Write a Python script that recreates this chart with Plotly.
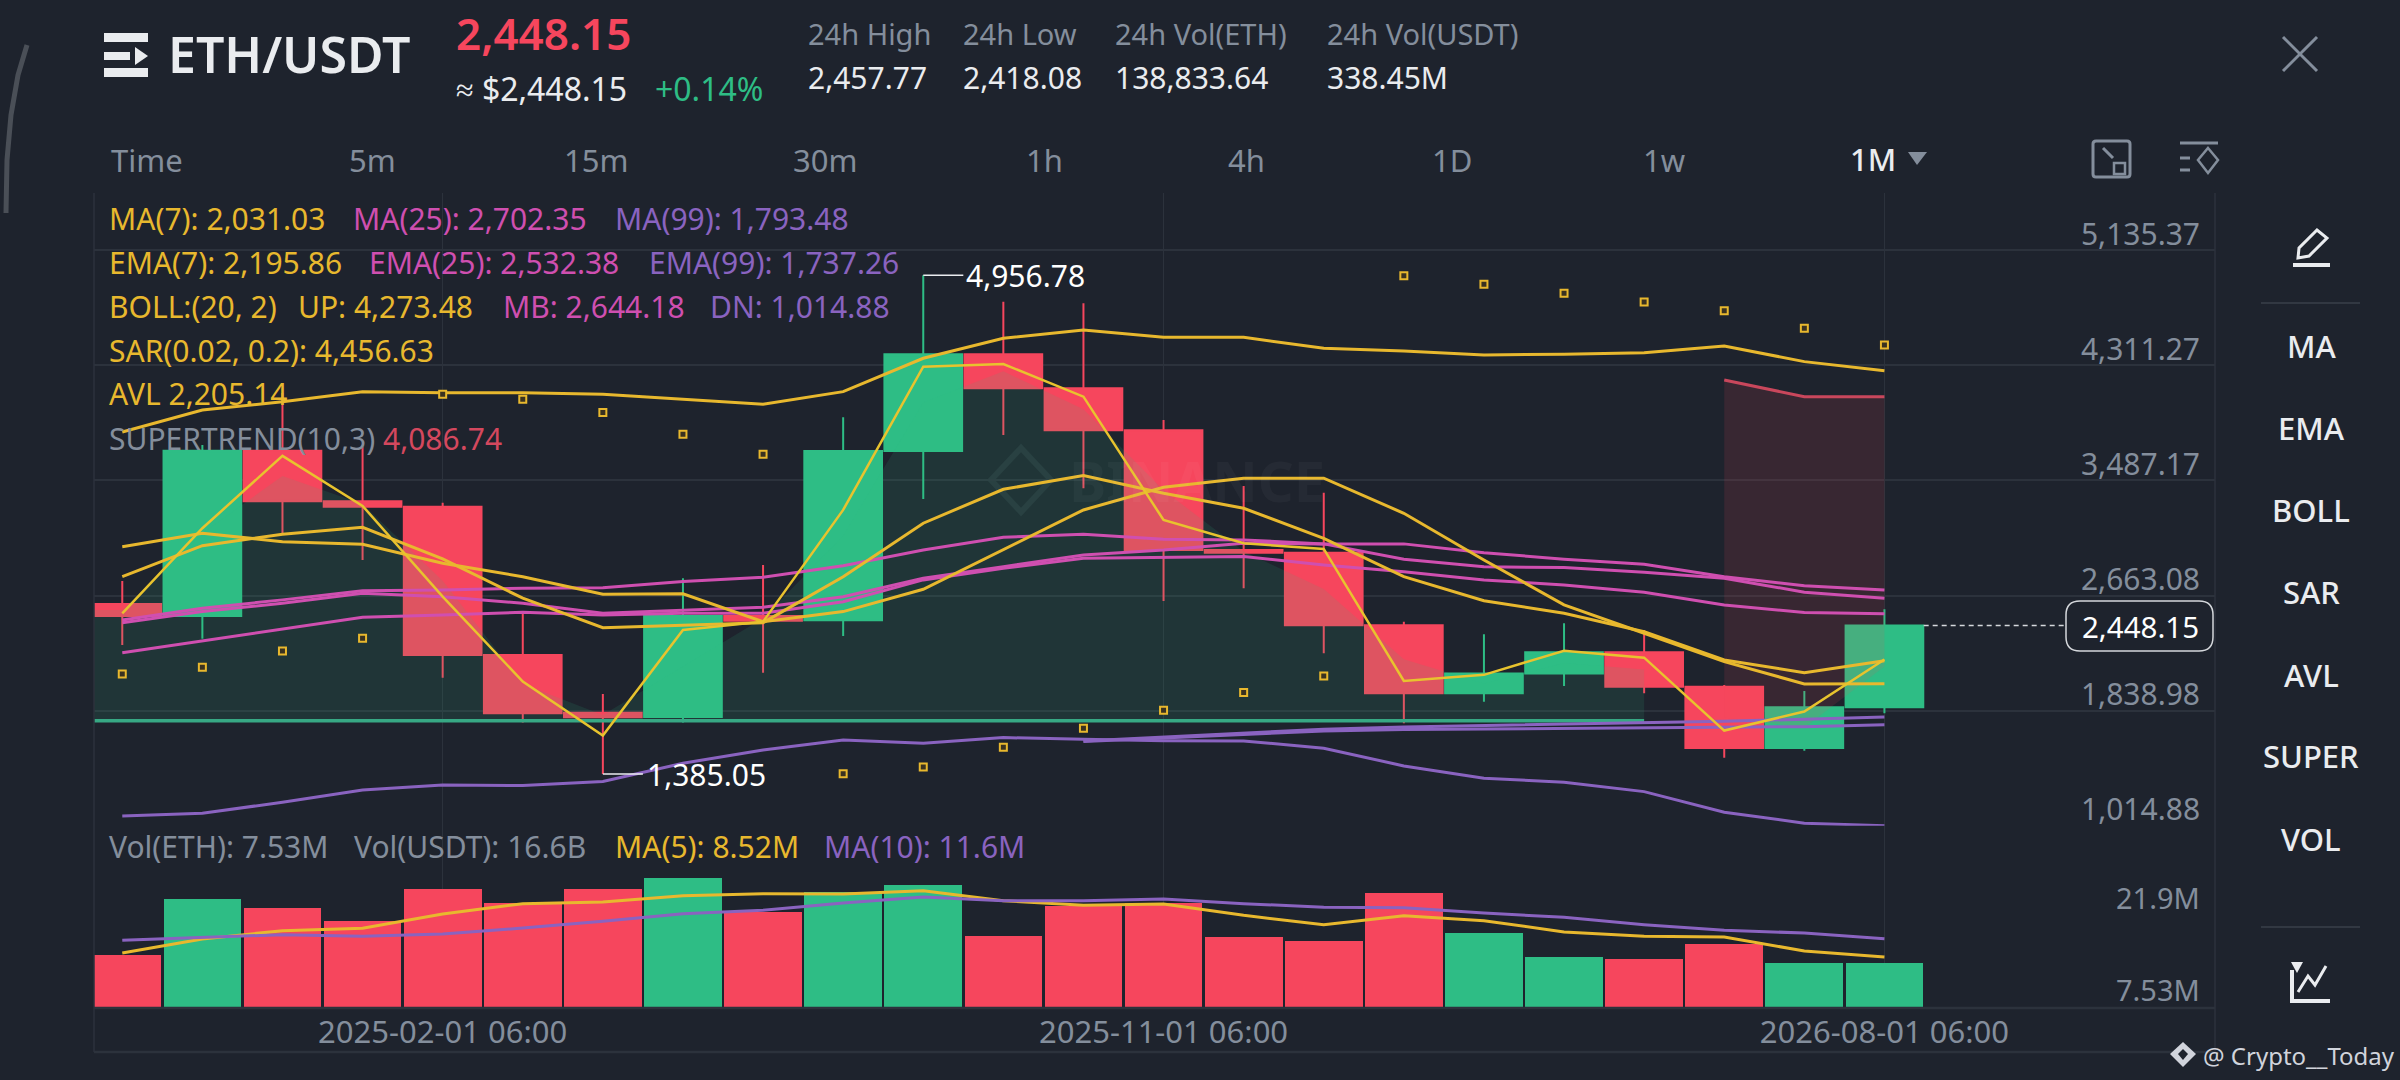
import plotly.graph_objs as go

W = 2400
H = 1080
BG = '#1e232d'
GRID = '#2c323c'
GRAY = '#848e9c'
WHITE = '#eaecef'
GREEN = '#2ebd85'
RED = '#f6465d'
YELLOW = '#e8b82e'
MAGENTA = '#cf4fb0'
PURPLE = '#8a63c0'
FONT = 'Noto Sans'

# monthly candles, 2024-10 .. 2026-08
months = ['2024-10', '2024-11', '2024-12', '2025-01', '2025-02', '2025-03', '2025-04', '2025-05',
          '2025-06', '2025-07', '2025-08', '2025-09', '2025-10', '2025-11', '2025-12', '2026-01',
          '2026-02', '2026-03', '2026-04', '2026-05', '2026-06', '2026-07', '2026-08']
idx = list(range(len(months)))

opens = [2603, 2517, 3700.5, 3338, 3299.5, 2238, 1824.5, 1794, 2517, 2486, 3698, 4391, 4147,
         3846.5, 2989, 2970, 2450, 1963.4, 2104, 2257, 2009, 1572, 1863]
highs = [2767, 3741, 4114, 3727, 3328, 2538, 1958, 2787, 2882, 3940, 4956.78, 4767, 4756,
         3920, 3448, 3400, 2476, 2386, 2465, 2417, 2023, 1980, 2565]
lows = [2309, 2354, 3111, 2918, 2075, 1753, 1385.05, 1753, 2111, 2374, 3355, 3813, 3431,
        2624, 2715, 2250, 1748, 1903, 2016, 1963, 1502, 1552, 1820]
closes = [2517, 3700.5, 3338, 3299.5, 2238, 1820, 1791.6, 2517, 2483, 3698, 4391, 4147, 3846.5,
          2989, 2970, 2450, 1963.4, 2104, 2257, 2009, 1572, 1863, 2448.15]

ma7 = [3013, 3109, 3049, 3030, 2894, 2798, 2672, 2675, 2476, 2548, 2708, 2990, 3276, 3438, 3503,
       3503, 3252, 2918, 2596, 2393, 2190, 2030, 2031.03]
ema7 = [2798, 3020, 3102, 3152, 2925, 2644, 2433, 2453, 2469, 2798, 3181, 3424, 3522, 3396, 3288,
        3073, 2798, 2626, 2536, 2404, 2202, 2111, 2195.86]
avl = [2536, 3145, 3663, 3305, 2655, 2047, 1660, 2417, 2476, 3276, 4302, 4321, 4087, 3204, 3037,
       2997, 2051, 2095, 2268, 2218, 1696, 1832, 2205.14]
ma25 = [2488, 2572, 2632, 2698, 2703, 2715, 2719, 2763, 2794, 2877, 2989, 3080, 3102, 3066, 3061,
        3033, 3033, 2970, 2923, 2887, 2798, 2734, 2702.35]
boll_mb = [2469, 2548, 2608, 2679, 2655, 2608, 2536, 2555, 2579, 2655, 2787, 2870, 2954, 2989, 3037,
           3033, 2923, 2870, 2863, 2830, 2787, 2687, 2644.18]
ema25 = [2254, 2340, 2422, 2508, 2524, 2543, 2524, 2536, 2536, 2619, 2775, 2858, 2930, 2937, 2942,
         2882, 2834, 2775, 2739, 2687, 2596, 2541, 2532.38]
boll_up = [3834, 3992, 4051, 4123, 4116, 4116, 4104, 4069, 4033, 4123, 4362, 4505, 4565, 4512, 4512,
           4434, 4414, 4386, 4391, 4402, 4450, 4338, 4273.48]
boll_dn = [1085, 1104, 1183, 1271, 1307, 1302, 1331, 1462, 1557, 1629, 1605, 1646, 1634, 1624, 1622,
           1570, 1443, 1355, 1326, 1259, 1111, 1033, 1014.88]
ma99 = [1622, 1651, 1681, 1706, 1722, 1731, 1740, 1753, 1763, 1777, 1793.48]
ema99 = [1618, 1643, 1672, 1693, 1703, 1708, 1713, 1717, 1720, 1724, 1737.26]
sar = [2102, 2150, 2266, 2357, 4104, 4069, 3973, 3818, 3675, 1386, 1436, 1577, 1713, 1842, 1968,
       2087, 4953, 4892, 4827, 4765, 4703, 4577, 4456.63]

# supertrend, the green leg starts before the first visible month
# the shaded bands close on the middle of each candle body
mids = [(o + c) / 2 for o, c in zip(opens, closes)]
st_up_x = [-1] + idx[:20]
st_up = [1767] * 21
st_up_mid = [2560] + mids[:20]
st_dn_x = idx[20:]
st_dn = [4207, 4086.74, 4086.74]
st_dn_mid = mids[20:]

# volume in millions
vol = [8.92, 18.3, 16.7, 14.67, 19.9, 17.57, 19.9, 21.75, 16.17, 19.52, 20.58, 12.05, 17.18,
       17.68, 11.88, 11.32, 19.3, 12.66, 8.53, 8.2, 10.76, 7.58, 7.53]
vol_ma5 = [9.2, 11.54, 12.94, 13.33, 15.73, 17.46, 17.73, 18.79, 19.13, 19.07, 19.63, 17.96, 17.18,
           17.4, 15.5, 13.94, 15.45, 14.61, 12.72, 11.99, 11.88, 9.54, 8.52]
vol_ma10 = [11.32, 11.82, 12.27, 11.99, 12.38, 13.38, 14.5, 15.78, 16.34, 17.57, 18.57, 17.96, 17.96,
            18.24, 17.46, 16.84, 16.79, 15.89, 15.17, 13.94, 12.99, 12.55, 11.6]
vol_colors = [GREEN if c >= o else RED for o, c in zip(opens, closes)]

price_ticks = [5135.37, 4311.27, 3487.17, 2663.08, 1838.98, 1014.88]
date_ticks = [4, 13, 22]
date_labels = ['2025-02-01 06:00', '2025-11-01 06:00', '2026-08-01 06:00']


def fx(x):
    return x / W


def fy(y):
    return 1 - y / H


def line_trace(x, y, color, width=3):
    return go.Scatter(x=x, y=y, mode='lines', line=dict(color=color, width=width), hoverinfo='skip')


data = [
    go.Candlestick(x=idx, open=opens, high=highs, low=lows, close=closes, whiskerwidth=0,
                   increasing=dict(line=dict(color=GREEN, width=2), fillcolor=GREEN),
                   decreasing=dict(line=dict(color=RED, width=2), fillcolor=RED)),
    # supertrend bands sit over the candles
    go.Scatter(x=st_up_x, y=st_up, mode='lines', line=dict(color='#37a884', width=3.5), hoverinfo='skip'),
    go.Scatter(x=st_up_x, y=st_up_mid, mode='lines', line=dict(width=0), fill='tonexty',
               fillcolor='rgba(46,189,133,0.12)', hoverinfo='skip'),
    go.Scatter(x=st_dn_x, y=st_dn, mode='lines', line=dict(color='#c9475c', width=3), hoverinfo='skip'),
    go.Scatter(x=st_dn_x, y=st_dn_mid, mode='lines', line=dict(width=0), fill='tonexty',
               fillcolor='rgba(246,70,93,0.12)', hoverinfo='skip'),
    line_trace(idx, boll_dn, PURPLE),
    line_trace(idx[12:], ma99, PURPLE),
    line_trace(idx[12:], ema99, PURPLE),
    line_trace(idx, ema25, MAGENTA),
    line_trace(idx, boll_mb, MAGENTA),
    line_trace(idx, ma25, MAGENTA),
    line_trace(idx, boll_up, YELLOW),
    line_trace(idx, ma7, YELLOW),
    line_trace(idx, ema7, YELLOW),
    line_trace(idx, avl, '#e8c32e', 2.5),
    go.Scatter(x=idx, y=sar, mode='markers', hoverinfo='skip',
               marker=dict(symbol='square', size=7, color='#3a3220', line=dict(color=YELLOW, width=2))),
    go.Bar(x=idx, y=vol, marker=dict(color=vol_colors, line=dict(width=0)), yaxis='y2', width=0.97, hoverinfo='skip'),
    go.Scatter(x=idx, y=vol_ma5, mode='lines', line=dict(color=YELLOW, width=3), yaxis='y2', hoverinfo='skip'),
    go.Scatter(x=idx, y=vol_ma10, mode='lines', line=dict(color=PURPLE, width=3), yaxis='y2', hoverinfo='skip'),
]

notes = []


def note(x, y, text, color=GRAY, size=30, anchor='left', weight=None):
    notes.append(dict(xref='paper', yref='paper', x=fx(x), y=fy(y), text=text, showarrow=False,
                      xanchor=anchor, yanchor='middle', borderpad=0,
                      font=dict(family=FONT, color=color, size=size, weight=weight)))


# header
note(167, 54, 'ETH/USDT', WHITE, 50, weight=600)
note(455, 33, '2,448.15', RED, 44, weight=600)
note(455, 89, '≈ $2,448.15', WHITE, 32)
note(654, 89, '+0.14%', GREEN, 32)
for x, head, val in [(807, '24h High', '2,457.77'), (962, '24h Low', '2,418.08'),
                     (1114, '24h Vol(ETH)', '138,833.64'), (1326, '24h Vol(USDT)', '338.45M')]:
    note(x, 34, head, GRAY, 29)
    note(x, 78, val, WHITE, 30)
for x, tab in [(109.5, 'Time'), (348, '5m'), (563, '15m'), (792, '30m'), (1025, '1h'),
               (1227, '4h'), (1431, '1D'), (1642, '1w')]:
    note(x, 159.5, tab, GRAY, 31)
note(1849, 159, '1M', WHITE, 31, weight=500)

# indicator legends
note(107.5, 219, 'MA(7): 2,031.03', YELLOW)
note(352, 219, 'MA(25): 2,702.35', MAGENTA)
note(614, 219, 'MA(99): 1,793.48', PURPLE)
note(107.5, 263, 'EMA(7): 2,195.86', YELLOW)
note(368, 263, 'EMA(25): 2,532.38', MAGENTA)
note(648, 263, 'EMA(99): 1,737.26', PURPLE)
note(107.5, 307, 'BOLL:(20, 2)', YELLOW)
note(297, 307, 'UP: 4,273.48', YELLOW)
note(502, 307, 'MB: 2,644.18', MAGENTA)
note(709, 307, 'DN: 1,014.88', PURPLE)
note(107.5, 351, 'SAR(0.02, 0.2): 4,456.63', YELLOW)
note(107.5, 393, 'AVL 2,205.14', YELLOW)
note(107.5, 439, 'SUPERTREND(10,3)', GRAY)
note(382, 439, '4,086.74', '#d4485e')
note(107.5, 846, 'Vol(ETH): 7.53M', GRAY)
note(353, 846, 'Vol(USDT): 16.6B', GRAY)
note(614, 846, 'MA(5): 8.52M', YELLOW)
note(823, 846, 'MA(10): 11.6M', PURPLE)

# axis label that plotly drops at the foot of the price pane, volume labels, last price
note(2201, 808, f'{price_ticks[-1]:,.2f}', GRAY, 30, 'right')
note(2201, 897, '21.9M', GRAY, 29, 'right')
note(2201, 989, '7.53M', GRAY, 29, 'right')
note(2200, 626, f'{closes[-1]:,.2f}', '#ffffff', 29.5, 'right')

# right hand buttons
for y, label in [(346, 'MA'), (428, 'EMA'), (510, 'BOLL'), (592, 'SAR'), (675, 'AVL'), (756, 'SUPER'), (839, 'VOL')]:
    note(2311, y, label, WHITE, 31, 'center', 500)

note(2202, 1055, '@ Crypto__Today', '#d1d4dc', 24)
note(1068, 480, 'BINANCE', 'rgba(255,255,255,0.035)', 56, weight=700)

# high and low callouts
high_i = highs.index(max(highs))
low_i = lows.index(min(lows))
notes.append(dict(x=high_i + 0.52, y=highs[high_i], xref='x', yref='y', text=f'{highs[high_i]:,.2f}', showarrow=False,
                  xanchor='left', yanchor='middle', borderpad=0, font=dict(family=FONT, color='#ffffff', size=30)))
notes.append(dict(x=low_i + 0.54, y=lows[low_i], xref='x', yref='y', text=f'{lows[low_i]:,.2f}', showarrow=False,
                  xanchor='left', yanchor='middle', borderpad=0, font=dict(family=FONT, color='#ffffff', size=30)))


def rect(x0, y0, x1, y1, color=WHITE):
    return dict(type='rect', xref='paper', yref='paper', x0=fx(x0), x1=fx(x1), y0=fy(y0), y1=fy(y1),
                fillcolor=color, line=dict(width=0))


def seg(x0, y0, x1, y1, color=GRID, width=1.5):
    return dict(type='line', xref='paper', yref='paper', x0=fx(x0), x1=fx(x1), y0=fy(y0), y1=fy(y1),
                line=dict(color=color, width=width))


def poly(pts, color=GRAY, width=3, fill=None, closed=False):
    d = 'M ' + ' L '.join(f'{fx(x):.5f} {fy(y):.5f}' for x, y in pts) + (' Z' if closed else '')
    return dict(type='path', xref='paper', yref='paper', path=d, fillcolor=fill,
                line=dict(color=color, width=width))


def rounded(x0, y0, x1, y1, r, color, width=1.5, fill=None):
    a, b, c, d = fx(x0), fx(x1), fy(y0), fy(y1)
    rx, ry = r / W, r / H
    p = (f'M {a + rx} {c} L {b - rx} {c} Q {b} {c} {b} {c - ry} L {b} {d + ry} Q {b} {d} {b - rx} {d} '
         f'L {a + rx} {d} Q {a} {d} {a} {d + ry} L {a} {c - ry} Q {a} {c} {a + rx} {c} Z')
    return dict(type='path', xref='paper', yref='paper', path=p, fillcolor=fill, line=dict(color=color, width=width))


shapes = [
    # frame of the chart
    seg(94, 193, 94, 1052), seg(2215, 193, 2215, 1052), seg(94, 1008, 2215, 1008, width=2.5),
    seg(94, 1052, 2215, 1052, width=2.5),
    # last price
    dict(type='line', xref='x', yref='y', x0=22.49, x1=24.24, y0=closes[-1], y1=closes[-1],
         line=dict(color='#d5d8dc', width=1.5, dash='5px,4px')),
    rounded(2066, 601, 2213, 651, 14, '#d5d8dc', fill=BG),
    # callout connectors
    dict(type='line', xref='x', yref='y', x0=high_i, x1=high_i + 0.5, y0=highs[high_i], y1=highs[high_i],
         line=dict(color='#eaecef', width=1.5)),
    dict(type='line', xref='x', yref='y', x0=low_i, x1=low_i + 0.5, y0=lows[low_i], y1=lows[low_i],
         line=dict(color='#eaecef', width=1.5)),
    # scroll handle on the far left
    poly([(27, 45), (18, 75), (11, 115), (7, 160), (6, 213)], '#4a4f57', 5),
    # menu icon
    rect(104, 33, 148, 42), rect(104, 52, 130, 60), rect(104, 68, 148, 77),
    poly([(135, 47), (148, 56), (135, 65)], WHITE, 0, WHITE, True),
    # timeframe caret and panel icons
    poly([(1908, 152), (1927, 152), (1917, 165)], GRAY, 0, GRAY, True),
    rounded(2093, 141, 2130, 177, 3, GRAY, 3),
    poly([(2103, 148), (2113, 158)], GRAY, 3), rect(2113, 161, 2127, 175, BG),
    dict(type='rect', xref='paper', yref='paper', x0=fx(2114), x1=fx(2125), y0=fy(163), y1=fy(174),
         line=dict(color=GRAY, width=2.5)),
    seg(2180, 143, 2218, 143, GRAY, 3), seg(2180, 158, 2190, 158, GRAY, 3), seg(2180, 170, 2190, 170, GRAY, 3),
    poly([(2208, 148), (2218, 160), (2208, 173), (2198, 160)], GRAY, 2.5, None, True),
    # close cross
    seg(2283, 37, 2317, 71, GRAY, 3), seg(2317, 37, 2283, 71, GRAY, 3),
    # pencil and chart buttons
    poly([(2298, 258), (2299, 248), (2317, 230), (2327, 238), (2309, 256)], WHITE, 3, None, True),
    seg(2293, 265, 2330, 265, WHITE, 4),
    seg(2261, 303, 2360, 303, '#3a404a', 1.5), seg(2261, 927, 2360, 927, '#3a404a', 1.5),
    poly([(2292, 970), (2292, 1001), (2330, 1001)], WHITE, 4),
    poly([(2298, 992), (2308, 976), (2315, 985), (2326, 966)], WHITE, 3),
    poly([(2291, 962), (2303, 962), (2297, 973)], WHITE, 0, WHITE, True),
    # credit logo and faint watermark
    poly([(2183, 1042), (2196, 1054), (2183, 1067), (2170, 1054)], '#d1d4dc', 0, '#d1d4dc', True),
    poly([(2183, 1049), (2188, 1054), (2183, 1060), (2178, 1054)], BG, 0, BG, True),
    dict(poly([(1021, 448), (1051, 480), (1021, 512), (991, 480)], '#283039', 6, None, True), layer='below'),
]

layout = go.Layout(
    width=W,
    height=H,
    margin=dict(l=0, r=0, t=0, b=0),
    paper_bgcolor=BG,
    plot_bgcolor=BG,
    showlegend=False,
    boxgap=0.03,
    boxgroupgap=0,
    bargap=0,
    font=dict(family=FONT, color=GRAY),
    xaxis=dict(domain=[fx(94), fx(2215)], range=[-0.353, 26.127], anchor='y2', rangeslider=dict(visible=False),
               tickmode='array', tickvals=date_ticks, ticktext=date_labels, tickfont=dict(size=31, color=GRAY),
               ticklabelstandoff=3,
               showgrid=True, gridcolor=GRID, gridwidth=1, zeroline=False, showline=False, ticks=''),
    yaxis=dict(domain=[fy(825.7), fy(193)], range=[1014.88, 5545.6], side='right', anchor='x',
               tickmode='array', tickvals=price_ticks, ticktext=[f'{v:,.2f}' for v in price_ticks],
               ticklabelposition='inside top', ticklabelstandoff=12, ticklabelshift=5, tickfont=dict(size=30, color=GRAY),
               showgrid=True, gridcolor=GRID, gridwidth=2, zeroline=False, showline=False, ticks=''),
    yaxis2=dict(domain=[fy(1008), fy(825.7)], range=[0, 30.5], anchor='x', showticklabels=False,
                showgrid=False, zeroline=False, showline=False, ticks=''),
    annotations=notes,
    shapes=shapes,
)

fig = go.Figure(data=data, layout=layout)
fig.write_html("out.html", config=dict(displayModeBar=False),
               post_script="document.body.style.margin='0'; document.body.style.background='#1e232d';")
